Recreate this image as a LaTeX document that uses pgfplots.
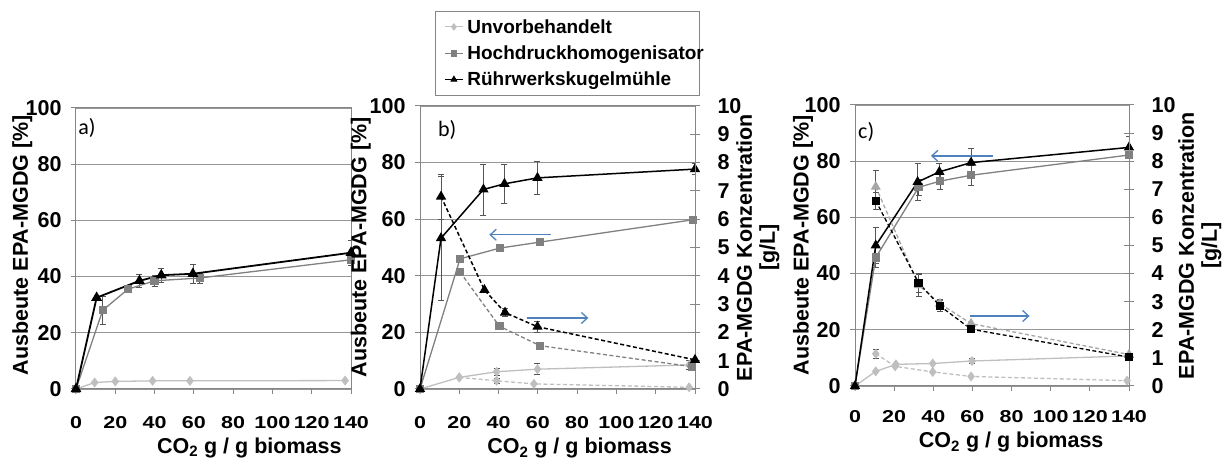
\documentclass[border=0pt]{standalone}
\usepackage{graphicx}
\usepackage{pgfplots}
\pgfplotsset{compat=1.18}
\usepackage{fontspec}
\setmainfont{Liberation Sans}
\newfontfamily\calibri{Carlito}
\usetikzlibrary{arrows.meta}

\definecolor{unv}{HTML}{BFBFBF}
\definecolor{hdh}{HTML}{808080}
\definecolor{tri}{HTML}{A6A6A6}
\definecolor{frame}{HTML}{868686}
\definecolor{gridc}{HTML}{969696}
\definecolor{errc}{HTML}{555555}
\definecolor{arrowblue}{HTML}{4F81BD}

% x tick numbers are set slightly flattened
\newcommand\xt[1]{\scalebox{1}[0.8]{#1}}

\tikzset{
  dsh/.style={dash pattern=on 4pt off 2.5pt},
  plabel/.style={font=\calibri\fontsize{22}{22}\selectfont, anchor=north west, inner sep=0pt},
  barrow/.style={arrowblue, line width=1.3pt, -{Straight Barb[length=6pt,width=11pt]}},
}

\pgfplotsset{
  panel/.style={
    scale only axis, width=275pt, height=281pt,
    xmin=0, xmax=140, ymin=0, ymax=100,
    xtick={0,20,...,140}, ytick={0,20,...,100},
    xticklabels={\xt{0},\xt{20},\xt{40},\xt{60},\xt{80},\xt{100},\xt{120},\xt{140}},
    yticklabels={0,20,40,60,80,100},
    ymajorgrids, grid style={gridc, line width=0.9pt},
    axis line style={frame, line width=1pt},
    tick style={frame, line width=1pt},
    tick align=outside, major tick length=5pt,
    xtick pos=bottom, ytick pos=left,
    tick label style={font=\fontsize{21.5}{21.5}\selectfont\bfseries},
    yticklabel style={xshift=-6pt},
    label style={font=\fontsize{21.5}{24}\selectfont\bfseries},
    xlabel={CO\textsubscript{2} g / g biomass},
    ylabel={Ausbeute EPA-MGDG [\%]},
  },
  rightpanel/.style={
    scale only axis, width=275pt, height=281pt,
    xmin=0, xmax=140, ymin=0, ymax=10,
    axis x line=none, axis y line*=right,
    ytick={0,1,...,10},
    yticklabels={0,1,2,3,4,5,6,7,8,9,10},
    axis line style={-, frame, line width=1pt},
    tick style={frame, line width=1pt},
    tick align=center, major tick length=10pt,
    tick label style={font=\fontsize{21.5}{21.5}\selectfont\bfseries},
    yticklabel style={anchor=west, xshift=14pt},
    label style={font=\fontsize{21.5}{23}\selectfont\bfseries},
    ylabel={EPA-MGDG Konzentration\\{[g/L]}},
  },
  unvs/.style={unv, line width=1.3pt, mark=diamond*, mark size=4pt, mark options={solid, fill=unv, draw=unv}},
  hds/.style={hdh, line width=1.3pt, mark=square*, mark size=3.5pt, mark options={solid, fill=hdh, draw=hdh}},
  rws/.style={black, line width=1.5pt, mark=triangle*, mark size=4.5pt, mark options={solid, fill=black, draw=black}},
  ebar/.style={forget plot, only marks, mark=none,
    error bars/.cd, y dir=both, y explicit,
    error bar style={line width=0.7pt, errc},
    error mark options={rotate=90, mark size=3pt, line width=0.7pt, errc}},
}

\begin{document}
\begin{tikzpicture}
\useasboundingbox (0,0) rectangle (1226pt,465pt);

%% ---------------- a) ----------------
\begin{axis}[panel, at={(76pt,76pt)}, anchor=south west, height=281pt,
  xticklabel style={yshift=-19pt},
  ylabel style={at={(axis description cs:-0.195,0.512)}, anchor=center},
  xlabel style={at={(axis description cs:0.63,-0.21)}, anchor=center}]
\addplot[ebar] coordinates {(13.6,28) +- (0,5) (40,38.5) +- (0,2) (63,39.5) +- (0,1.8)};
\addplot[ebar] coordinates {(32.3,38.5) +- (0,2.3) (43.4,40.5) +- (0,2.5) (59.5,41) +- (0,3.5) (140,48.5) +- (0,4.5)};
\addplot[unvs] coordinates {(0,0) (9.5,2.3) (20,2.7) (39,2.9) (58,2.9) (137,3.0)};
\addplot[hds] coordinates {(0,0) (13.6,28) (26.4,35.5) (40,38.5) (63,39.5) (140,46)};
\addplot[rws, line width=1.8pt] coordinates {(0,0) (10.5,32.5) (32.3,38.5) (43.4,40.5) (59.5,41) (140,48.5)};
\node[plabel] at (axis description cs:0.008,0.965) {a)};
\end{axis}

%% ---------------- b) ----------------
\begin{axis}[panel, at={(420pt,76pt)}, anchor=south west, height=283pt,
  xticklabel style={yshift=-19pt},
  ylabel style={at={(axis description cs:-0.215,0.5)}, anchor=center},
  xlabel style={at={(axis description cs:0.58,-0.209)}, anchor=center},
  legend style={at={(axis description cs:0.0545,1.336)}, anchor=north west,
    draw=frame, line width=0.8pt, fill=white,
    font=\fontsize{19}{21}\selectfont\bfseries, row sep=7pt,
    inner xsep=9pt, inner ysep=6pt, nodes={inner ysep=2pt, inner xsep=4pt}},
  legend cell align=left,
  legend image code/.code={\draw[mark repeat=2, mark phase=2, #1] plot coordinates {(0pt,0pt) (9pt,0pt) (18pt,0pt)};}]
\addlegendimage{unvs, line width=1pt, mark size=3pt}
\addlegendentry{\makebox[219pt][l]{Unvorbehandelt}}
\addlegendimage{hds, line width=1pt, mark size=2.8pt}
\addlegendentry{\makebox[219pt][l]{Hochdruckhomogenisator}}
\addlegendimage{rws, line width=1pt, mark size=3.2pt}
\addlegendentry{\makebox[219pt][l]{Rührwerkskugelmühle}}
\addplot[ebar] coordinates {(39,6.1) +- (0,1.2) (59.8,7.0) +- (0,2) (137,8.5) +- (0,1.5)};
\addplot[ebar] coordinates {(10.7,53.3) +- (0,22) (32.3,70.5) +- (0,9) (43,72.5) +- (0,7) (59.8,74.6) +- (0,5.7) (140,77.7) +- (0,2)};
\addplot[unvs, forget plot] coordinates {(0,0) (20,4.1) (39,6.1) (59.8,7.0) (137,8.5)};
\addplot[hds, forget plot] coordinates {(0,0) (20.4,46) (40.7,49.8) (61,51.9) (139,59.8)};
\addplot[rws, forget plot] coordinates {(0,0) (10.7,53.3) (32.3,70.5) (43,72.5) (59.8,74.6) (140,77.7)};
\draw[barrow] (axis cs:66.6,54.5) -- (axis cs:35.3,54.5);
\draw[barrow] (axis cs:54.7,25.1) -- (axis cs:85.7,25.1);
\node[plabel] at (axis description cs:0.065,0.95) {b)};
\end{axis}
\begin{axis}[rightpanel, at={(420pt,76pt)}, anchor=south west, height=283pt,
  ylabel style={align=center, at={(axis description cs:1.229,0.5)}, anchor=center}]
\addplot[ebar] coordinates {(10.7,6.8) +- (0,0.8) (43.3,2.7) +- (0,0.15) (59.8,2.2) +- (0,0.2)};
\addplot[ebar] coordinates {(39,0.29) +- (0,0.1)};
\addplot[unvs, dsh] coordinates {(20,0.41) (39,0.29) (58,0.18) (137,0.06)};
\addplot[hds, dsh] coordinates {(20.4,4.13) (40.4,2.22) (61.1,1.53) (138.4,0.79)};
\addplot[rws, dsh] coordinates {(10.7,6.8) (32.8,3.5) (43.3,2.7) (59.8,2.2) (140,1.03)};
\end{axis}

%% ---------------- c) ----------------
\begin{axis}[panel, at={(855pt,79pt)}, anchor=south west, width=274pt, height=281pt,
  xticklabel style={yshift=-16pt},
  ylabel style={at={(axis description cs:-0.19,0.5)}, anchor=center},
  xlabel style={at={(axis description cs:0.57,-0.2)}, anchor=center}]
\addplot[ebar] coordinates {(59.8,8.9) +- (0,1)};
\addplot[ebar] coordinates {(10.6,45.7) +- (0,3.5) (32.5,70.7) +- (0,3) (43.4,72.9) +- (0,3) (59.3,75) +- (0,3.5)};
\addplot[ebar] coordinates {(10.6,50) +- (0,6.3) (32,72.6) +- (0,6.5) (43.1,76.2) +- (0,3) (59.3,79.5) +- (0,5) (140,84.9) +- (0,4)};
\addplot[unvs] coordinates {(0,0) (10.6,5.2) (20.9,7.7) (39.7,8.0) (59.8,8.9) (140,10.7)};
\addplot[hds] coordinates {(0,0) (10.6,45.7) (32.5,70.7) (43.4,72.9) (59.3,75) (140,82.2)};
\addplot[rws] coordinates {(0,0) (10.6,50) (32,72.6) (43.1,76.2) (59.3,79.5) (140,84.9)};
\draw[barrow] (axis cs:70.4,81.9) -- (axis cs:38.8,81.9);
\draw[barrow] (axis cs:58.5,24.9) -- (axis cs:89.2,24.9);
\node[plabel] at (axis description cs:0.011,0.94) {c)};
\end{axis}
\begin{axis}[rightpanel, at={(855pt,79pt)}, anchor=south west, width=274pt, height=281pt,
  ylabel style={align=center, at={(axis description cs:1.259,0.5)}, anchor=center}]
\addplot[ebar] coordinates {(10.6,1.15) +- (0,0.15)};
\addplot[ebar] coordinates {(10.6,6.59) +- (0,0.3) (32.5,3.67) +- (0,0.35) (43.4,2.85) +- (0,0.2) (59.3,2.02) +- (0,0.12)};
\addplot[ebar] coordinates {(10.6,7.09) +- (0,0.6) (32.5,3.59) +- (0,0.4) (43.4,2.93) +- (0,0.15)};
\addplot[unvs, dsh] coordinates {(10.6,1.15) (20.5,0.70) (39.7,0.50) (59.3,0.34) (139,0.19)};
\addplot[tri, line width=1.3pt, dsh, mark=triangle*, mark size=4.5pt, mark options={solid, fill=tri, draw=tri}]
  coordinates {(10.6,7.09) (32.5,3.59) (43.4,2.93) (59.3,2.22) (140,1.12)};
\addplot[black, line width=1.3pt, dsh, mark=square*, mark size=3.5pt, mark options={solid, fill=black, draw=black}]
  coordinates {(10.6,6.59) (32.5,3.67) (43.4,2.85) (59.3,2.02) (140,1.03)};
\end{axis}
\end{tikzpicture}
\end{document}
